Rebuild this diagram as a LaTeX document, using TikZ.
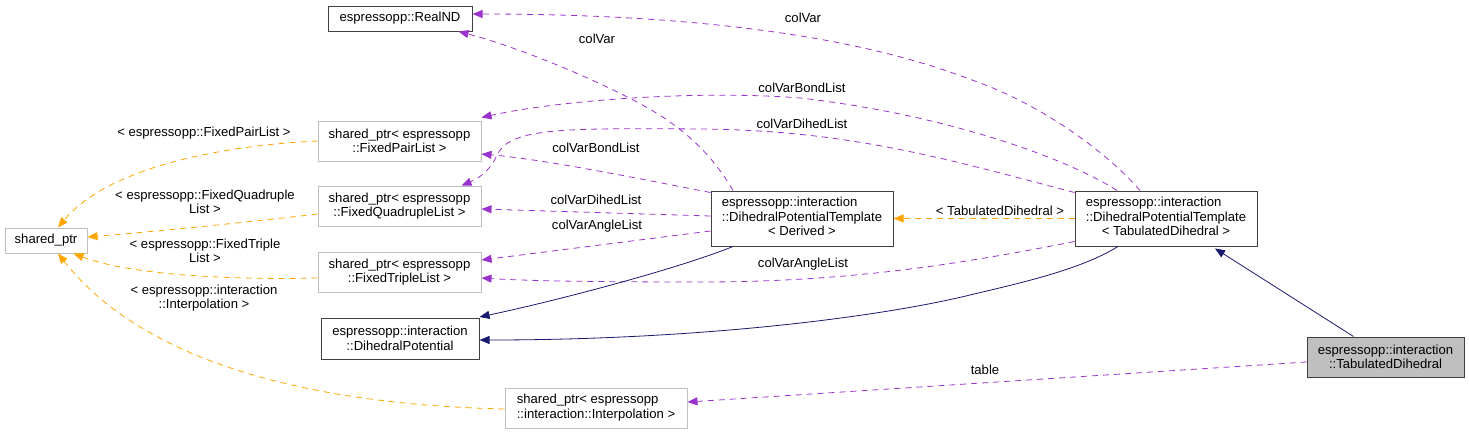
\documentclass[tikz,border=0pt]{standalone}
\usepackage{fontspec}
\setmainfont{Liberation Sans}
\usetikzlibrary{arrows.meta}
\newcommand{\dfont}{\fontsize{13.1}{14.5}\selectfont}
\definecolor{purp}{HTML}{9A32CD}
\definecolor{orng}{HTML}{FFA500}
\definecolor{navy}{HTML}{191970}
\definecolor{gbord}{HTML}{BFBFBF}
\definecolor{bord}{HTML}{404040}
\tikzset{
  cls/.style={draw=bord, line width=1pt, inner sep=0pt, align=center, font=\dfont},
  ext/.style={draw=gbord, line width=1pt, inner sep=0pt, align=center, font=\dfont},
  elab/.style={font=\dfont, align=center, inner sep=0pt},
  tip/.style={-{Triangle[length=10pt,width=8pt]}},
  useedge/.style={tip, draw=purp, line width=0.8pt, dash pattern=on 6pt off 5pt},
  tmpledge/.style={tip, draw=orng, line width=0.8pt, dash pattern=on 6pt off 5pt},
  inhedge/.style={tip, draw=navy, line width=0.8pt},
}
\begin{document}
\begin{tikzpicture}[x=1pt,y=-1pt]
\useasboundingbox (0,0) rectangle (1469,434);
% nodes
\node[cls, minimum width=144pt, minimum height=25pt] (realnd) at (400,18.5) {espressopp::RealND};
\node[ext, minimum width=163pt, minimum height=40pt] (pair) at (399.5,141) {shared\_ptr< espressopp\\::FixedPairList >};
\node[ext, minimum width=163pt, minimum height=40pt] (quad) at (399.5,206) {shared\_ptr< espressopp\\::FixedQuadrupleList >};
\node[ext, minimum width=163pt, minimum height=40pt] (triple) at (399.5,272) {shared\_ptr< espressopp\\::FixedTripleList >};
\node[ext, minimum width=82pt, minimum height=25pt] (sp) at (46,240.5) {shared\_ptr};
\node[cls, minimum width=158pt, minimum height=41pt] (dpot) at (400,338.5) {espressopp::interaction\\::DihedralPotential};
\node[ext, minimum width=182pt, minimum height=40pt] (interp) at (596,408) {\begin{tabular}{@{}l@{}}shared\_ptr< espressopp\\::interaction::Interpolation >\end{tabular}};
\node[cls, minimum width=182pt, minimum height=55pt] (derived) at (802,218.5) {\begin{tabular}{@{}l@{}}espressopp::interaction\\::DihedralPotentialTemplate\\\multicolumn{1}{@{}c@{}}{< Derived >}\end{tabular}};
\node[cls, minimum width=182pt, minimum height=55pt] (tabt) at (1166,218.5) {\begin{tabular}{@{}l@{}}espressopp::interaction\\::DihedralPotentialTemplate\\\multicolumn{1}{@{}c@{}}{< TabulatedDihedral >}\end{tabular}};
\node[cls, fill=gbord, minimum width=157pt, minimum height=40pt] (tabd) at (1385.5,357) {espressopp::interaction\\::TabulatedDihedral};
% coordinates on borders
\coordinate (t1) at ([xshift=-26pt]tabt.north);
\coordinate (t2) at ([xshift=-49pt]tabt.north);
\coordinate (t3) at ([yshift=-2pt]tabt.north west);
\coordinate (t4) at ([yshift=5pt]tabt.south west);
\coordinate (t5) at ([xshift=-48pt]tabt.south);
\coordinate (t6) at ([xshift=49pt,yshift=-2pt]tabt.south);
\coordinate (d1) at ([xshift=-69pt]derived.north);
\coordinate (d2) at ([yshift=-2pt]derived.north west);
\coordinate (d3) at ([yshift=2.5pt]derived.west);
\coordinate (d5) at ([yshift=-12.5pt]derived.west);
\coordinate (d4) at ([xshift=-69pt]derived.south);
\coordinate (r1) at ([yshift=4.5pt]realnd.east);
\coordinate (r2) at ([xshift=-14pt]realnd.south east);
% edges
\draw[useedge] (t1) .. controls (1105,150) and (1040,105) .. (980,83) .. controls (930,64) and (800,14) .. (r1);
\draw[useedge] (d1) .. controls (715,160) and (690,130) .. (637,102) .. controls (580,72) and (510,45) .. (r2);
\draw[useedge] (t2) .. controls (1070,160) and (950,115) .. (800,98) .. controls (700,90) and (560,100) .. ([yshift=3pt]pair.north east);
\draw[useedge] (d2) .. controls (650,181) and (550,160) .. ([yshift=-13pt]pair.east);
\draw[useedge] (t3) .. controls (950,160) and (850,130) .. (700,129) .. controls (560,128) and (510,128) .. (497,155) .. controls (492,168) and (480,178) .. ([xshift=-20pt]quad.north east);
\draw[useedge] (d3) -- ([yshift=-3pt]quad.east);
\draw[useedge] (d5) -- ([yshift=12pt]triple.east);
\draw[useedge] (t4) .. controls (960,264) and (850,282) .. (700,282) .. controls (600,282) and (530,281) .. ([yshift=-6pt]triple.east);
\draw[inhedge] (d4) .. controls (680,268) and (560,300) .. ([yshift=21.5pt]dpot.east);
\draw[inhedge] (t5) .. controls (1080,270) and (1020,283) .. (970,295) .. controls (880,317) and (700,340) .. ([yshift=-1.5pt]dpot.east);
\draw[inhedge] ([xshift=-32pt]tabd.north) -- (t6);
\draw[tmpledge] (tabt.west) -- (derived.east);
\draw[useedge] ([yshift=-5pt]tabd.west) -- ([yshift=6pt]interp.east);
\draw[tmpledge] (pair.west) .. controls (230,145) and (110,165) .. ([xshift=12pt]sp.north);
\draw[tmpledge] ([yshift=-8pt]quad.west) .. controls (250,222) and (150,232) .. ([yshift=3.5pt]sp.east);
\draw[tmpledge] ([yshift=-6pt]triple.west) .. controls (230,280) and (130,275) .. ([xshift=-14pt]sp.south east);
\draw[tmpledge] ([yshift=-1pt]interp.west) .. controls (330,405) and (150,370) .. ([xshift=12pt]sp.south);
% labels
\node[elab] (l1) at (803,18) {colVar};
\node[elab] (l2) at (597,39) {colVar};
\node[elab] (l3) at (802,88) {colVarBondList};
\node[elab] (l4) at (802,124) {colVarDihedList};
\node[elab] (l5) at (596,148) {colVarBondList};
\node[elab] (l6) at (596,200) {colVarDihedList};
\node[elab] (l7) at (597,226) {colVarAngleList};
\node[elab] (l8) at (803,264) {colVarAngleList};
\node[elab] (l9) at (1000,211) {< TabulatedDihedral >};
\node[elab] (l10) at (985,370) {table};
\node[elab] (l11) at (204,133) {< espressopp::FixedPairList >};
\node[elab] (l12) at (205,202) {< espressopp::FixedQuadruple\\List >};
\node[elab] (l13) at (205,251) {< espressopp::FixedTriple\\List >};
\node[elab] (l14) at (204,298) {< espressopp::interaction\\::Interpolation >};
\end{tikzpicture}
\end{document}
